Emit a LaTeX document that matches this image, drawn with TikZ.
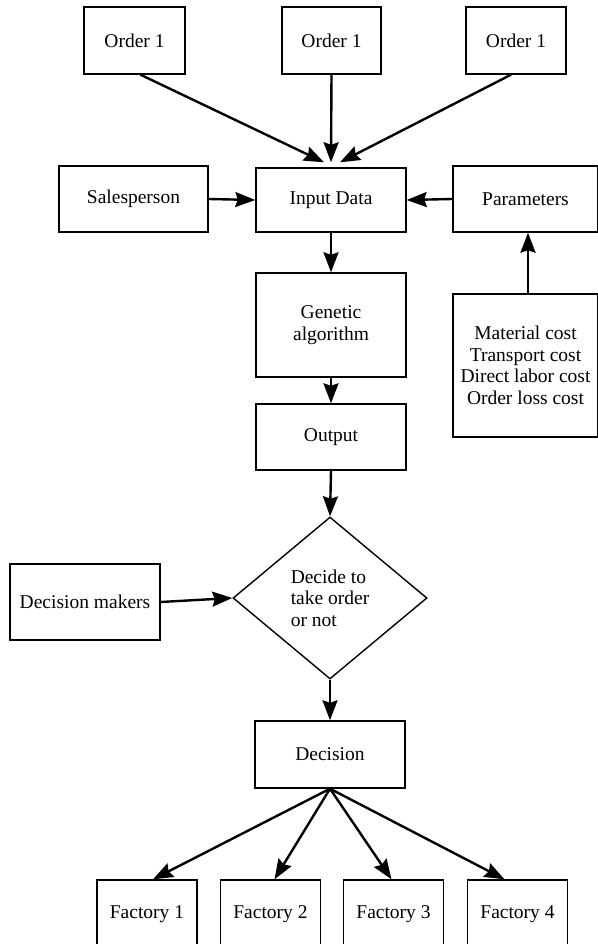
\documentclass[tikz,border=0pt]{standalone}
\usepackage{fontspec}
\setmainfont{Liberation Serif}
\usetikzlibrary{shapes.geometric, arrows.meta, positioning}

\begin{document}
\begin{tikzpicture}[
  x=1pt, y=-1pt,
  box/.style={draw, line width=1.4pt, inner sep=2pt,
    font=\fontsize{19.5}{21.5}\selectfont},
  flow/.style={-{Stealth[length=20pt, width=15pt, inset=2.5pt]}, line width=2.4pt}]

  \useasboundingbox (0,0) rectangle (597,944);

  % orders
  \node[box, minimum width=101pt, minimum height=67pt] (o1) at (134.5,40.5) {Order 1};
  \node[box, minimum width=99pt, minimum height=67pt] (o2) at (331.5,40.5) {Order 1};
  \node[box, minimum width=100pt, minimum height=67pt] (o3) at (516,40.5) {Order 1};

  \node[box, minimum width=149pt, minimum height=66pt] (sp) at (133.5,199) {Salesperson};
  \node[box, minimum width=150pt, minimum height=64pt] (in) at (331,200) {Input Data};
  \node[box, minimum width=145pt, minimum height=66pt] (par) at (525.5,199) {Parameters};

  \node[box, minimum width=150pt, minimum height=104pt, align=center] (ga) at (331,325)
    {Genetic\\algorithm};
  \node[box, minimum width=150pt, minimum height=66pt] (out) at (331,437) {Output};
  \node[box, minimum width=145pt, minimum height=143pt, align=center] (mat) at (525.5,365.5)
    {Material cost\\Transport cost\\Direct labor cost\\Order loss cost};

  % decision part
  \node[box, minimum width=150pt, minimum height=76pt] (dm) at (85,602) {Decision makers};
  \node[box, diamond, minimum width=194pt, minimum height=162pt, inner sep=0pt,
    align=left] (dec) at (330,598) {Decide to\\take order\\or not};
  \node[box, minimum width=150pt, minimum height=67pt] (dn) at (330,754.5) {Decision};

  \foreach \i/\x in {1/147,2/270.5,3/393.5,4/517.5}
    \node[box, minimum width=100pt, minimum height=68pt] (f\i) at (\x,914) {Factory \i};

  \path[flow]
    ([xshift=6pt]o1.south) edge ([xshift=-7pt,yshift=5pt]in.north)
    (o2.south) edge ([yshift=5pt]in.north)
    ([xshift=-5pt]o3.south) edge ([xshift=9pt,yshift=5pt]in.north)
    (sp.east) edge (in.west)
    (par.west) edge (in.east)
    (in.south) edge (ga.north)
    ([xshift=2.5pt]mat.north) edge ([xshift=2.5pt]par.south)
    (ga.south) edge (out.north)
    (out.south) edge (dec.north)
    (dm.east) edge (dec.west)
    (dec.south) edge (dn.north);

  \path[flow]
    (dn.south) edge ([xshift=6pt]f1.north)
    (dn.south) edge ([xshift=4pt]f2.north)
    (dn.south) edge ([xshift=-2pt]f3.north)
    (dn.south) edge ([xshift=-13pt]f4.north);
\end{tikzpicture}
\end{document}
